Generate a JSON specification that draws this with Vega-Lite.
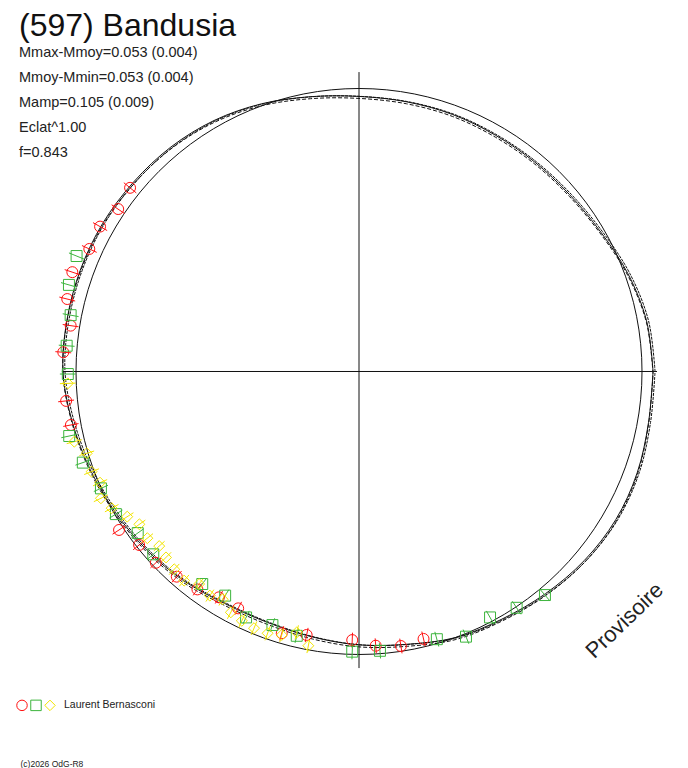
{
  "$schema": "https://vega.github.io/schema/vega-lite/v6.json",
  "width": 688,
  "height": 768,
  "autosize": "none",
  "padding": 0,
  "background": "white",
  "view": {"stroke": null},
  "config": {"font": "Liberation Sans"},
  "title": {
    "text": "(597) Bandusia",
    "subtitle": ["Mmax-Mmoy=0.053 (0.004)", "Mmoy-Mmin=0.053 (0.004)", "Mamp=0.105 (0.009)", "Eclat^1.00", "f=0.843"],
    "anchor": "start",
    "frame": "group",
    "orient": "top",
    "offset": -160,
    "dx": 19,
    "fontSize": 32,
    "fontWeight": "normal",
    "color": "#111",
    "subtitleFontSize": 14.5,
    "subtitleColor": "#222",
    "subtitleLineHeight": 25,
    "subtitlePadding": 3
  },
  "encoding": {
    "x": {"field": "x", "type": "quantitative",
      "scale": {"domain": [-1.2686, 1.1625], "nice": false, "zero": false},
      "axis": {"title": "Provisoire", "domain": false, "ticks": false, "labels": false, "grid": false,
        "titleX": 624, "titleY": -148, "titleAngle": -44, "titleAlign": "center", "titleBaseline": "middle",
        "titleFontSize": 22, "titleFontWeight": "normal", "titleColor": "#222"}},
    "y": {"field": "y", "type": "quantitative",
      "scale": {"domain": [-1.4011, 1.3127], "nice": false, "zero": false},
      "axis": {"title": "(c)2026 OdG-R8", "domain": false, "ticks": false, "labels": false, "grid": false,
        "titleX": 20, "titleY": 766, "titleAngle": 0, "titleAlign": "left", "titleBaseline": "alphabetic",
        "titleFontSize": 8.5, "titleFontWeight": "normal", "titleColor": "#222"}}
  },
  "datasets": {
    "axes": [
      {"x": -1.05, "y": 0, "x2": 1.053, "y2": 0},
      {"x": 0, "y": 1.058, "x2": 0, "y2": -1.048}
    ],
    "centre": [{"x": 0, "y": 0}],
    "fit": [
      {"i": 0, "x": 1.039, "y": 0},
      {"i": 1, "x": 1.016, "y": 0.179},
      {"i": 2, "x": 0.950, "y": 0.346},
      {"i": 3, "x": 0.854, "y": 0.493},
      {"i": 4, "x": 0.744, "y": 0.625},
      {"i": 5, "x": 0.621, "y": 0.740},
      {"i": 6, "x": 0.482, "y": 0.835},
      {"i": 7, "x": 0.331, "y": 0.908},
      {"i": 8, "x": 0.168, "y": 0.953},
      {"i": 9, "x": 0, "y": 0.972},
      {"i": 10, "x": -0.171, "y": 0.971},
      {"i": 11, "x": -0.344, "y": 0.946},
      {"i": 12, "x": -0.512, "y": 0.887},
      {"i": 13, "x": -0.665, "y": 0.793},
      {"i": 14, "x": -0.797, "y": 0.669},
      {"i": 15, "x": -0.906, "y": 0.523},
      {"i": 16, "x": -0.985, "y": 0.358},
      {"i": 17, "x": -1.032, "y": 0.182},
      {"i": 18, "x": -1.046, "y": 0},
      {"i": 19, "x": -1.013, "y": -0.179},
      {"i": 20, "x": -0.950, "y": -0.346},
      {"i": 21, "x": -0.861, "y": -0.497},
      {"i": 22, "x": -0.751, "y": -0.630},
      {"i": 23, "x": -0.620, "y": -0.739},
      {"i": 24, "x": -0.474, "y": -0.820},
      {"i": 25, "x": -0.323, "y": -0.887},
      {"i": 26, "x": -0.165, "y": -0.938},
      {"i": 27, "x": 0, "y": -0.966},
      {"i": 28, "x": 0.170, "y": -0.964},
      {"i": 29, "x": 0.342, "y": -0.940},
      {"i": 30, "x": 0.505, "y": -0.875},
      {"i": 31, "x": 0.659, "y": -0.785},
      {"i": 32, "x": 0.796, "y": -0.668},
      {"i": 33, "x": 0.907, "y": -0.524},
      {"i": 34, "x": 0.983, "y": -0.358},
      {"i": 35, "x": 1.023, "y": -0.180},
      {"i": 36, "x": 1.039, "y": 0}
    ],
    "obs": [
      {"s": "R", "x": -0.809, "y": 0.649, "xl": -0.787, "yl": 0.631, "xh": -0.831, "yh": 0.667},
      {"s": "R", "x": -0.851, "y": 0.574, "xl": -0.828, "yl": 0.558, "xh": -0.874, "yh": 0.589},
      {"s": "R", "x": -0.915, "y": 0.512, "xl": -0.890, "yl": 0.498, "xh": -0.940, "yh": 0.526},
      {"s": "R", "x": -0.953, "y": 0.433, "xl": -0.927, "yl": 0.421, "xh": -0.979, "yh": 0.445},
      {"s": "R", "x": -1.013, "y": 0.351, "xl": -0.986, "yl": 0.342, "xh": -1.040, "yh": 0.360},
      {"s": "R", "x": -1.031, "y": 0.256, "xl": -1.003, "yl": 0.249, "xh": -1.059, "yh": 0.263},
      {"s": "R", "x": -1.019, "y": 0.162, "xl": -0.991, "yl": 0.158, "xh": -1.047, "yh": 0.166},
      {"s": "R", "x": -1.045, "y": 0.068, "xl": -1.017, "yl": 0.066, "xh": -1.073, "yh": 0.070},
      {"s": "R", "x": -1.035, "y": -0.104, "xl": -1.007, "yl": -0.101, "xh": -1.063, "yh": -0.107},
      {"s": "R", "x": -1.018, "y": -0.189, "xl": -0.991, "yl": -0.184, "xh": -1.045, "yh": -0.194},
      {"s": "R", "x": -0.848, "y": -0.560, "xl": -0.825, "yl": -0.545, "xh": -0.871, "yh": -0.575},
      {"s": "R", "x": -0.777, "y": -0.613, "xl": -0.756, "yl": -0.596, "xh": -0.798, "yh": -0.630},
      {"s": "R", "x": -0.718, "y": -0.676, "xl": -0.699, "yl": -0.658, "xh": -0.737, "yh": -0.694},
      {"s": "R", "x": -0.644, "y": -0.725, "xl": -0.627, "yl": -0.705, "xh": -0.661, "yh": -0.745},
      {"s": "R", "x": -0.571, "y": -0.770, "xl": -0.556, "yl": -0.749, "xh": -0.586, "yh": -0.791},
      {"s": "R", "x": -0.495, "y": -0.798, "xl": -0.482, "yl": -0.776, "xh": -0.508, "yh": -0.820},
      {"s": "R", "x": -0.427, "y": -0.837, "xl": -0.415, "yl": -0.814, "xh": -0.439, "yh": -0.860},
      {"s": "R", "x": -0.273, "y": -0.925, "xl": -0.266, "yl": -0.900, "xh": -0.280, "yh": -0.950},
      {"s": "R", "x": -0.185, "y": -0.931, "xl": -0.180, "yl": -0.906, "xh": -0.190, "yh": -0.956},
      {"s": "R", "x": -0.024, "y": -0.949, "xl": -0.023, "yl": -0.923, "xh": -0.025, "yh": -0.975},
      {"s": "R", "x": 0.059, "y": -0.969, "xl": 0.057, "yl": -0.943, "xh": 0.061, "yh": -0.995},
      {"s": "R", "x": 0.148, "y": -0.970, "xl": 0.144, "yl": -0.944, "xh": 0.152, "yh": -0.996},
      {"s": "R", "x": 0.228, "y": -0.945, "xl": 0.222, "yl": -0.919, "xh": 0.234, "yh": -0.971},
      {"s": "G", "x": -0.998, "y": 0.408, "xl": -0.971, "yl": 0.397, "xh": -1.025, "yh": 0.419},
      {"s": "G", "x": -1.025, "y": 0.306, "xl": -0.997, "yl": 0.298, "xh": -1.053, "yh": 0.314},
      {"s": "G", "x": -1.019, "y": 0.199, "xl": -0.991, "yl": 0.194, "xh": -1.047, "yh": 0.204},
      {"s": "G", "x": -1.033, "y": 0.091, "xl": -1.005, "yl": 0.089, "xh": -1.061, "yh": 0.093},
      {"s": "G", "x": -1.029, "y": -0.009, "xl": -1.001, "yl": -0.009, "xh": -1.057, "yh": -0.009},
      {"s": "G", "x": -1.024, "y": -0.228, "xl": -0.996, "yl": -0.222, "xh": -1.052, "yh": -0.234},
      {"s": "G", "x": -0.976, "y": -0.322, "xl": -0.950, "yl": -0.313, "xh": -1.002, "yh": -0.331},
      {"s": "G", "x": -0.912, "y": -0.413, "xl": -0.887, "yl": -0.402, "xh": -0.937, "yh": -0.424},
      {"s": "G", "x": -0.859, "y": -0.504, "xl": -0.836, "yl": -0.490, "xh": -0.882, "yh": -0.518},
      {"s": "G", "x": -0.782, "y": -0.571, "xl": -0.761, "yl": -0.556, "xh": -0.803, "yh": -0.586},
      {"s": "G", "x": -0.727, "y": -0.646, "xl": -0.707, "yl": -0.629, "xh": -0.747, "yh": -0.663},
      {"s": "G", "x": -0.554, "y": -0.751, "xl": -0.539, "yl": -0.731, "xh": -0.569, "yh": -0.771},
      {"s": "G", "x": -0.473, "y": -0.792, "xl": -0.460, "yl": -0.771, "xh": -0.486, "yh": -0.813},
      {"s": "G", "x": -0.399, "y": -0.869, "xl": -0.388, "yl": -0.846, "xh": -0.410, "yh": -0.892},
      {"s": "G", "x": -0.306, "y": -0.896, "xl": -0.298, "yl": -0.872, "xh": -0.314, "yh": -0.920},
      {"s": "G", "x": -0.220, "y": -0.934, "xl": -0.214, "yl": -0.909, "xh": -0.226, "yh": -0.959},
      {"s": "G", "x": -0.024, "y": -0.990, "xl": -0.023, "yl": -0.963, "xh": -0.025, "yh": -1.017},
      {"s": "G", "x": 0.074, "y": -0.987, "xl": 0.072, "yl": -0.960, "xh": 0.076, "yh": -1.014},
      {"s": "G", "x": 0.275, "y": -0.946, "xl": 0.268, "yl": -0.920, "xh": 0.282, "yh": -0.972},
      {"s": "G", "x": 0.378, "y": -0.937, "xl": 0.368, "yl": -0.912, "xh": 0.388, "yh": -0.962},
      {"s": "G", "x": 0.463, "y": -0.869, "xl": 0.450, "yl": -0.846, "xh": 0.476, "yh": -0.892},
      {"s": "G", "x": 0.557, "y": -0.835, "xl": 0.542, "yl": -0.812, "xh": 0.572, "yh": -0.858},
      {"s": "G", "x": 0.657, "y": -0.790, "xl": 0.639, "yl": -0.769, "xh": 0.675, "yh": -0.811},
      {"s": "Y", "x": -1.029, "y": -0.042, "xl": -1.001, "yl": -0.041, "xh": -1.057, "yh": -0.043},
      {"s": "Y", "x": -1.006, "y": -0.248, "xl": -0.979, "yl": -0.241, "xh": -1.033, "yh": -0.255},
      {"s": "Y", "x": -0.962, "y": -0.289, "xl": -0.936, "yl": -0.281, "xh": -0.988, "yh": -0.297},
      {"s": "Y", "x": -0.945, "y": -0.354, "xl": -0.919, "yl": -0.344, "xh": -0.971, "yh": -0.364},
      {"s": "Y", "x": -0.915, "y": -0.393, "xl": -0.890, "yl": -0.382, "xh": -0.940, "yh": -0.404},
      {"s": "Y", "x": -0.912, "y": -0.448, "xl": -0.887, "yl": -0.436, "xh": -0.937, "yh": -0.460},
      {"s": "Y", "x": -0.874, "y": -0.483, "xl": -0.850, "yl": -0.470, "xh": -0.898, "yh": -0.496},
      {"s": "Y", "x": -0.819, "y": -0.513, "xl": -0.797, "yl": -0.499, "xh": -0.841, "yh": -0.527},
      {"s": "Y", "x": -0.776, "y": -0.540, "xl": -0.755, "yl": -0.525, "xh": -0.797, "yh": -0.555},
      {"s": "Y", "x": -0.748, "y": -0.589, "xl": -0.728, "yl": -0.573, "xh": -0.768, "yh": -0.605},
      {"s": "Y", "x": -0.706, "y": -0.617, "xl": -0.687, "yl": -0.600, "xh": -0.725, "yh": -0.634},
      {"s": "Y", "x": -0.682, "y": -0.657, "xl": -0.664, "yl": -0.639, "xh": -0.700, "yh": -0.675},
      {"s": "Y", "x": -0.653, "y": -0.699, "xl": -0.635, "yl": -0.680, "xh": -0.671, "yh": -0.718},
      {"s": "Y", "x": -0.618, "y": -0.739, "xl": -0.601, "yl": -0.719, "xh": -0.635, "yh": -0.759},
      {"s": "Y", "x": -0.565, "y": -0.751, "xl": -0.550, "yl": -0.731, "xh": -0.580, "yh": -0.771},
      {"s": "Y", "x": -0.527, "y": -0.792, "xl": -0.513, "yl": -0.771, "xh": -0.541, "yh": -0.813},
      {"s": "Y", "x": -0.482, "y": -0.805, "xl": -0.469, "yl": -0.783, "xh": -0.495, "yh": -0.827},
      {"s": "Y", "x": -0.453, "y": -0.851, "xl": -0.441, "yl": -0.828, "xh": -0.465, "yh": -0.874},
      {"s": "Y", "x": -0.414, "y": -0.881, "xl": -0.403, "yl": -0.857, "xh": -0.425, "yh": -0.905},
      {"s": "Y", "x": -0.371, "y": -0.907, "xl": -0.361, "yl": -0.883, "xh": -0.381, "yh": -0.931},
      {"s": "Y", "x": -0.323, "y": -0.925, "xl": -0.314, "yl": -0.900, "xh": -0.332, "yh": -0.950},
      {"s": "Y", "x": -0.273, "y": -0.931, "xl": -0.266, "yl": -0.906, "xh": -0.280, "yh": -0.956},
      {"s": "Y", "x": -0.220, "y": -0.922, "xl": -0.214, "yl": -0.897, "xh": -0.226, "yh": -0.947},
      {"s": "Y", "x": -0.179, "y": -0.969, "xl": -0.174, "yl": -0.943, "xh": -0.184, "yh": -0.995}
    ]
  },
  "layer": [
    {
      "data": {"name": "axes"},
      "mark": {"type": "rule", "color": "#111", "strokeWidth": 1},
      "encoding": {
        "x2": {"field": "x2"},
        "y2": {"field": "y2"}
      }
    },
    {
      "data": {"name": "centre"},
      "mark": {"type": "point", "shape": "circle", "filled": false, "size": 320356, "color": "#111", "strokeWidth": 1, "opacity": 1}
    },
    {
      "data": {"name": "fit"},
      "mark": {"type": "line", "color": "#111", "strokeWidth": 1, "interpolate": "catmull-rom"},
      "encoding": {"order": {"field": "i"}}
    },
    {
      "data": {"name": "fit"},
      "mark": {"type": "line", "color": "#111", "strokeWidth": 1, "strokeDash": [3, 1], "interpolate": "catmull-rom", "xOffset": 2, "yOffset": 0},
      "encoding": {"order": {"field": "i"}}
    },
    {
      "data": {"name": "fit"},
      "mark": {"type": "line", "color": "#111", "strokeWidth": 1, "strokeDash": [4, 2], "interpolate": "catmull-rom", "xOffset": 0, "yOffset": 2},
      "encoding": {"order": {"field": "i"}}
    },
    {
      "data": {"name": "obs"},
      "mark": {"type": "rule", "strokeWidth": 1},
      "encoding": {
        "x": {"field": "xl", "type": "quantitative",
          "scale": {"domain": [-1.2686, 1.1625], "nice": false, "zero": false},
          "axis": {"title": "Provisoire", "domain": false, "ticks": false, "labels": false, "grid": false,
            "titleX": 624, "titleY": -148, "titleAngle": -44, "titleAlign": "center", "titleBaseline": "middle",
            "titleFontSize": 22, "titleFontWeight": "normal", "titleColor": "#222"}},
        "y": {"field": "yl", "type": "quantitative",
          "scale": {"domain": [-1.4011, 1.3127], "nice": false, "zero": false},
          "axis": {"title": "(c)2026 OdG-R8", "domain": false, "ticks": false, "labels": false, "grid": false,
            "titleX": 20, "titleY": 766, "titleAngle": 0, "titleAlign": "left", "titleBaseline": "alphabetic",
            "titleFontSize": 8.5, "titleFontWeight": "normal", "titleColor": "#222"}},
        "x2": {"field": "xh"},
        "y2": {"field": "yh"},
        "color": {"field": "s", "type": "nominal",
          "scale": {"domain": ["R", "G", "Y"], "range": ["#ff1010", "#3cb43c", "#f2e400"]}}
      }
    },
    {
      "data": {"name": "obs"},
      "mark": {"type": "point", "filled": false, "strokeWidth": 1, "opacity": 1, "size": 120},
      "encoding": {
        "color": {"field": "s", "type": "nominal",
          "scale": {"domain": ["R", "G", "Y"], "range": ["#ff1010", "#3cb43c", "#f2e400"]},
          "legend": {"title": null, "orient": "none", "legendX": 16, "legendY": 699, "direction": "horizontal",
            "padding": 0, "symbolSize": 110, "symbolStrokeWidth": 1, "labelOffset": 0, "columnPadding": -4,
            "labelFontSize": 10.5, "labelColor": "#222",
            "labelExpr": "datum.value == 'Y' ? '\u2800Laurent Bernasconi' : ''"}},
        "shape": {"field": "s", "type": "nominal",
          "scale": {"domain": ["R", "G", "Y"], "range": ["circle", "square", "diamond"]}}
      }
    }
  ]
}
